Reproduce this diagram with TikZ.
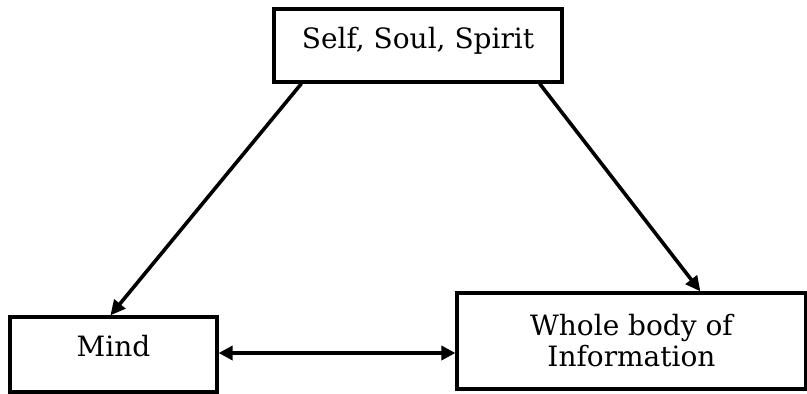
\documentclass[tikz,border=0pt]{standalone}
\usepackage{fontspec}
\setmainfont{DejaVu Serif}
\usetikzlibrary{arrows.meta,calc}
\begin{document}
\begin{tikzpicture}[x=1pt,y=-1pt,
  box/.style={draw=black,line width=3.2pt,rectangle,inner sep=0pt,align=center,
    font=\fontsize{28}{31}\selectfont},
  conn/.style={line width=3.6pt,-{Triangle[length=15pt,width=14pt]}},
  dconn/.style={line width=3.6pt,{Triangle[length=14pt,width=14pt]}-{Triangle[length=14pt,width=14pt]}}]
\useasboundingbox (0,0) rectangle (807,394);
\node[box,minimum width=288pt,minimum height=73pt,text height=20pt,text depth=14pt] (top) at (418,45.5) {Self, Soul, Spirit};
\node[box,minimum width=207pt,minimum height=75pt,text height=20pt,text depth=17pt] (mind) at (113.5,354.5) {Mind};
\node[box,minimum width=349pt,minimum height=96pt] (whole) at (631.5,341) {Whole body of\\Information};
\draw[conn] ($(top.south west)+(29,0)$) -- ($(mind.north west)+(102,0)$);
\draw[conn] ($(top.south east)+(-24,0)$) -- ($(whole.north west)+(245,0)$);
\draw[dconn] ($(mind.east)+(0,-1.5)$) -- ($(mind.east -| whole.west)+(0,-1.5)$);
\end{tikzpicture}
\end{document}
